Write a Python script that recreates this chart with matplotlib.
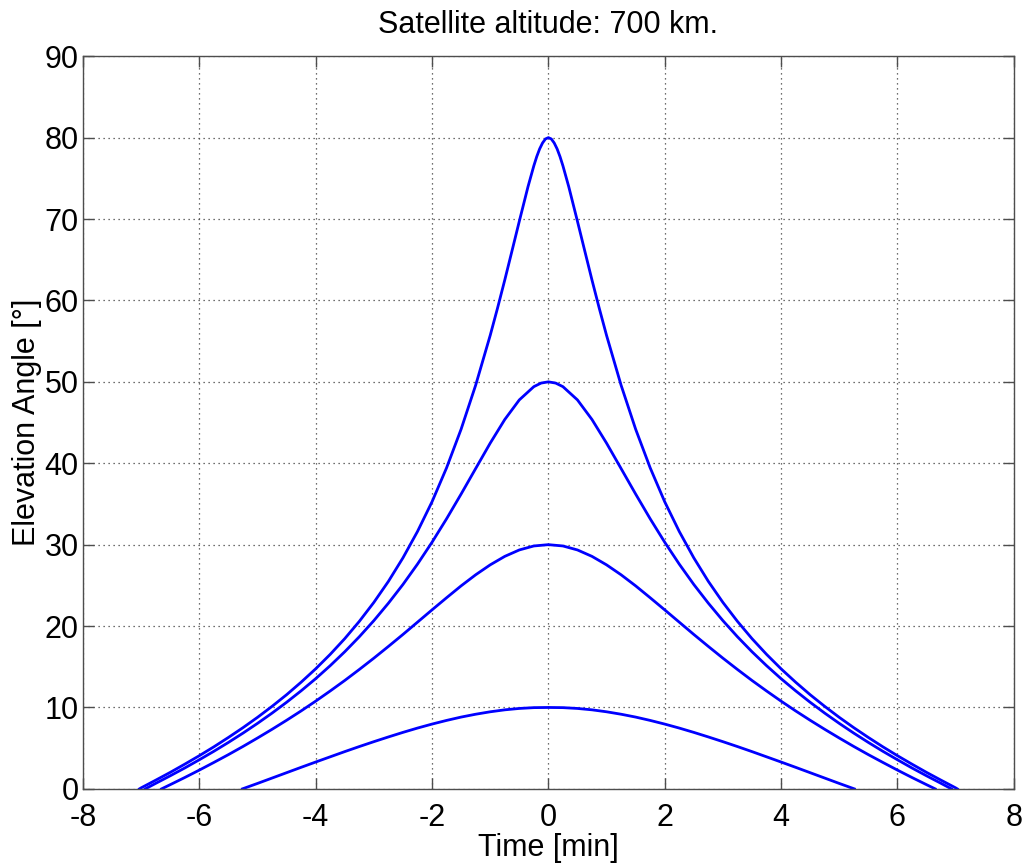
import matplotlib
matplotlib.use("Agg")
import matplotlib.pyplot as plt

plt.rcParams['font.family'] = ['Liberation Sans', 'DejaVu Sans']
plt.rcParams['axes.unicode_minus'] = False

# elevation passes, 700 km orbit
t_80 = [-7.03, -7.0, -6.75, -6.5, -6.25, -6.0, -5.75, -5.5, -5.25, -5.0, -4.75, -4.5, -4.25, -4.0,
        -3.75, -3.5, -3.25, -3.0, -2.75, -2.5, -2.25, -2.0, -1.75, -1.5, -1.25, -1.0, -0.875, -0.75,
        -0.625, -0.5, -0.35, -0.25, -0.2, -0.15, -0.1, -0.05, 0.0,
        0.05, 0.1, 0.15, 0.2, 0.25, 0.35, 0.5, 0.625, 0.75, 0.875, 1.0, 1.25, 1.5, 1.75, 2.0,
        2.25, 2.5, 2.75, 3.0, 3.25, 3.5, 3.75, 4.0, 4.25, 4.5, 4.75, 5.0, 5.25, 5.5, 5.75, 6.0,
        6.25, 6.5, 6.75, 7.0, 7.03]
el_80 = [0.0, 0.13, 1.07, 2.03, 3.04, 4.08, 5.17, 6.32, 7.52, 8.79, 10.14, 11.57, 13.11, 14.75,
         16.53, 18.46, 20.58, 22.91, 25.49, 28.38, 31.62, 35.27, 39.44, 44.19, 49.59, 55.71, 59.03, 62.50,
         66.10, 69.72, 73.98, 76.54, 77.67, 78.62, 79.35, 79.84, 80.0,
         79.84, 79.35, 78.62, 77.67, 76.54, 73.98, 69.72, 66.10, 62.50, 59.03, 55.71, 49.59, 44.19, 39.44, 35.27,
         31.62, 28.38, 25.49, 22.91, 20.58, 18.46, 16.53, 14.75, 13.11, 11.57, 10.14, 8.79, 7.52, 6.32, 5.17, 4.08,
         3.04, 2.03, 1.07, 0.13, 0.0]

t_50 = [-6.93, -6.75, -6.5, -6.25, -6.0, -5.75, -5.5, -5.25, -5.0, -4.75, -4.5, -4.25, -4.0,
        -3.75, -3.5, -3.25, -3.0, -2.75, -2.5, -2.25, -2.0, -1.75, -1.5, -1.25, -1.0, -0.75,
        -0.5, -0.25, -0.125, 0.0, 0.125, 0.25, 0.5,
        0.75, 1.0, 1.25, 1.5, 1.75, 2.0, 2.25, 2.5, 2.75, 3.0, 3.25, 3.5, 3.75, 4.0,
        4.25, 4.5, 4.75, 5.0, 5.25, 5.5, 5.75, 6.0, 6.25, 6.5, 6.75, 6.93]
el_50 = [0.0, 0.68, 1.61, 2.57, 3.58, 4.62, 5.71, 6.85, 8.05, 9.31, 10.64, 12.05, 13.54,
         15.14, 16.85, 18.69, 20.67, 22.81, 25.11, 27.61, 30.30, 33.18, 36.22, 39.35, 42.47, 45.37,
         47.78, 49.41, 49.85, 50.0, 49.85, 49.41, 47.78,
         45.37, 42.47, 39.35, 36.22, 33.18, 30.30, 27.61, 25.11, 22.81, 20.67, 18.69, 16.85, 15.14, 13.54,
         12.05, 10.64, 9.31, 8.05, 6.85, 5.71, 4.62, 3.58, 2.57, 1.61, 0.68, 0.0]

t_30 = [-6.65, -6.5, -6.25, -6.0, -5.75, -5.5, -5.25, -5.0, -4.75, -4.5, -4.25, -4.0,
        -3.75, -3.5, -3.25, -3.0, -2.75, -2.5, -2.25, -2.0, -1.75, -1.5, -1.25, -1.0,
        -0.75, -0.5, -0.25, 0.0, 0.25, 0.5, 0.75,
        1.0, 1.25, 1.5, 1.75, 2.0, 2.25, 2.5, 2.75, 3.0, 3.25, 3.5, 3.75, 4.0,
        4.25, 4.5, 4.75, 5.0, 5.25, 5.5, 5.75, 6.0, 6.25, 6.5, 6.65]
el_30 = [0.0, 0.52, 1.40, 2.31, 3.25, 4.21, 5.21, 6.25, 7.32, 8.43, 9.58, 10.78,
         12.03, 13.32, 14.67, 16.06, 17.50, 18.97, 20.48, 21.99, 23.48, 24.94, 26.30, 27.52,
         28.56, 29.35, 29.84, 30.0, 29.84, 29.35, 28.56,
         27.52, 26.30, 24.94, 23.48, 21.99, 20.48, 18.97, 17.50, 16.06, 14.67, 13.32, 12.03, 10.78,
         9.58, 8.43, 7.32, 6.25, 5.21, 4.21, 3.25, 2.31, 1.40, 0.52, 0.0]

t_10 = [-5.26, -5.0, -4.75, -4.5, -4.25, -4.0, -3.75, -3.5, -3.25, -3.0, -2.75, -2.5, -2.25,
        -2.0, -1.75, -1.5, -1.25, -1.0, -0.75, -0.5, -0.25, 0.0, 0.25, 0.5, 0.75, 1.0,
        1.25, 1.5, 1.75, 2.0, 2.25, 2.5, 2.75, 3.0, 3.25, 3.5, 3.75, 4.0, 4.25, 4.5, 4.75, 5.0, 5.26]
el_10 = [0.0, 0.67, 1.33, 1.99, 2.65, 3.30, 3.94, 4.58, 5.20, 5.80, 6.38, 6.94, 7.47,
         7.96, 8.41, 8.82, 9.17, 9.47, 9.71, 9.88, 9.98, 10.0, 9.98, 9.88, 9.71, 9.47,
         9.17, 8.82, 8.41, 7.96, 7.47, 6.94, 6.38, 5.80, 5.20, 4.58, 3.94, 3.30, 2.65, 1.99, 1.33, 0.67, 0.0]

x_ticks = [-8, -6, -4, -2, 0, 2, 4, 6, 8]
y_ticks = [0, 10, 20, 30, 40, 50, 60, 70, 80, 90]

fig = plt.figure(figsize=(10.25, 8.65), dpi=100)
ax = fig.add_axes([0.081, 0.088, 0.908, 0.847])

for t, el in [(t_80, el_80), (t_50, el_50), (t_30, el_30), (t_10, el_10)]:
    ax.plot(t, el, color=(0, 0, 1), lw=2.0)

ax.set_xlim(-8, 8)
ax.set_ylim(0, 90)
ax.set_xticks(x_ticks)
ax.set_yticks(y_ticks)
ax.grid(True, linestyle=(0, (1, 3)), color='0.25', lw=0.9)
ax.tick_params(direction='in', length=8, width=1, top=True, right=True,
               labelsize=22, color='0.3')
ax.tick_params(axis='x', pad=10)
ax.tick_params(axis='y', pad=3)
for s in ax.spines.values():
    s.set_color('0.3')
    s.set_linewidth(1)

ax.set_title('Satellite altitude: 700 km.', fontsize=22, pad=17)
ax.set_xlabel('Time [min]', fontsize=22, labelpad=0)
ax.set_ylabel('Elevation Angle [°]', fontsize=22, labelpad=2)

fig.savefig('out.png', dpi=100)
